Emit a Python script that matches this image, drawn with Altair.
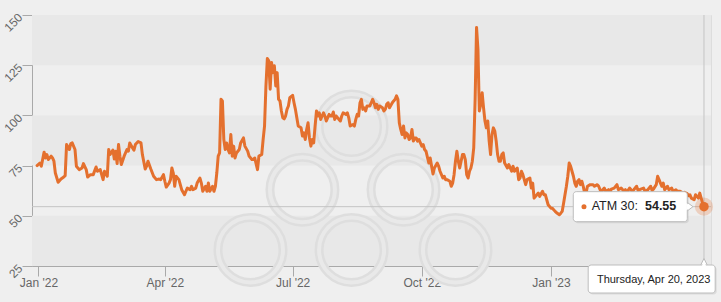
import altair as alt
import pandas as pd

# ---------------- data ----------------
start_date = "2022-01-01"
day_offsets = [
    -1, 1, 2, 4, 5, 6, 7, 9, 10, 11, 12, 14, 16, 18, 19, 20, 22, 23, 24, 26, 27, 29, 31, 32, 34, 35,
    37, 39, 41, 42, 44, 46, 47, 49, 50, 51, 53, 54, 55, 56, 57, 58, 59, 61, 63, 64, 65, 67, 68, 69,
    71, 73, 74, 76, 77, 78, 80, 82, 84, 86, 87, 89, 90, 91,
    93, 94, 95, 96, 97, 98, 100, 101, 102, 104, 105, 106, 108, 109, 110, 112, 113, 115, 116, 117,
    119, 120, 121, 122, 124, 125, 126, 127, 128, 129, 130, 131, 132, 133, 134, 135, 136, 137, 138,
    139, 140, 141, 143, 144, 146, 147, 149, 150, 152, 153, 154, 156, 157, 159, 160, 161, 162, 163,
    164, 165, 166, 167, 168, 169, 170, 171, 172, 173, 174, 175, 176, 177, 178, 179, 181, 182, 183,
    184, 185,
    187, 188, 189, 190, 191, 192, 193, 194, 195, 196, 197, 198, 199, 200, 201, 202, 203, 204, 205,
    207, 208, 209, 210, 211, 212, 214, 215, 216, 217, 219, 220, 221, 222, 224, 225, 226, 227, 228,
    229, 230, 231, 232, 233, 234, 236, 237, 238, 239, 240, 241, 242, 243, 245, 246, 247, 248, 249,
    250, 252, 253, 254, 255, 256, 257, 258, 259, 260, 261, 262, 263, 264, 265, 266, 267, 268, 269,
    270, 271, 273, 274, 275, 276, 278,
    279, 280, 281, 282, 284, 285, 286, 287, 288, 289, 290, 291, 293, 294, 295, 296, 297, 298, 299,
    300, 301, 302, 303, 304, 305, 306, 307, 308, 309, 310, 311, 312, 313, 314, 315, 316, 317, 318,
    319, 320, 321, 322, 323, 324, 325, 326, 327, 328, 329, 330, 331, 332, 334, 335, 337, 338, 339,
    341, 342, 343, 344, 345, 347, 348, 350, 351, 352, 353, 355, 356, 357, 359, 360, 361, 362, 363,
    365, 366, 368, 369, 371,
    372, 373, 374, 376, 377, 378, 379, 380, 381, 382, 383, 384, 385, 386, 387, 388, 389, 390, 391,
    393, 395, 396, 398, 399, 400, 401, 403, 404, 406, 407, 408, 410, 412, 413, 415, 417, 418, 419,
    421, 423, 424, 426, 427, 429, 431, 432, 434, 436, 437, 438, 440, 441, 442, 443, 444, 445, 446,
    448, 449, 451, 452, 454, 455, 457, 459, 460, 462, 463, 464, 465, 467, 468, 470, 471, 472, 473,
    474,
]
atm30 = [
    75.0, 76.3, 74.7, 81.7, 78.8, 80.5, 78.0, 79.7, 78.8, 77.2, 71.3, 66.7, 68.3, 69.3, 70.0, 85.5,
    83.0, 86.0, 86.3, 83.0, 74.7, 73.0, 73.8, 76.0, 73.0, 69.3, 70.5, 70.5, 74.3, 72.2, 73.0, 68.0,
    72.2, 69.7, 83.0, 80.5, 82.7, 78.3, 82.2, 76.0, 85.5, 79.7, 75.5, 79.7, 83.0, 82.2, 86.3, 83.8,
    82.7, 85.5, 87.0, 86.3, 80.5, 73.3, 74.7, 77.2, 73.3, 69.7, 68.0, 68.3, 68.0, 70.5, 67.2, 64.3,
    66.3, 68.0, 73.8, 71.3, 64.7, 69.7, 68.0, 65.5, 63.0, 60.5, 62.2, 63.8, 63.0, 64.7, 63.0, 63.8,
    66.3, 68.8, 66.3, 62.2, 64.7, 62.2, 66.3, 62.2, 64.7, 62.2, 64.7, 71.3, 79.7, 81.3, 108.0, 107.2,
    88.0, 83.0, 86.3, 83.0, 81.3, 90.5, 79.7, 84.7, 78.8, 81.3, 83.0, 86.3, 88.8, 84.7, 82.2, 79.7,
    78.0, 78.0, 78.8, 73.0, 79.7, 80.5, 88.0, 94.7, 114.7, 128.3, 127.2, 113.0, 126.3, 121.3, 124.7,
    114.7, 121.3, 108.0, 107.2, 102.2, 98.8, 98.3, 99.7, 103.0, 104.7, 108.8, 110.0, 106.3, 103.0,
    98.8, 94.7,
    93.8, 89.7, 91.3, 88.0, 93.0, 96.3, 88.8, 84.7, 88.0, 86.3, 94.7, 102.2, 99.7, 101.3, 98.0, 99.7,
    101.3, 99.7, 97.2, 100.5, 99.7, 99.7, 101.7, 98.0, 99.7, 98.0, 97.2, 99.7, 101.3, 100.5, 101.3,
    98.8, 94.7, 95.5, 94.7, 98.0, 100.5, 99.7, 106.3, 108.0, 103.0, 103.8, 102.2, 104.7, 104.7,
    106.3, 108.0, 106.3, 103.8, 105.5, 103.0, 104.7, 103.8, 102.2, 103.0, 105.5, 106.3, 103.8, 106.3,
    107.2, 108.0, 109.7, 108.0, 96.3, 93.0, 90.5, 94.7, 88.8, 91.3, 90.5, 88.0, 88.8, 93.0, 87.2,
    88.8, 88.8, 87.2, 88.0, 84.7, 85.5, 83.0, 82.2, 76.3,
    78.8, 74.7, 70.8, 73.8, 76.3, 74.7, 72.2, 70.5, 68.8, 69.7, 68.0, 68.0, 67.2, 64.7, 66.3, 70.5,
    77.2, 82.2, 77.2, 73.8, 77.2, 80.5, 80.5, 78.0, 70.5, 68.8, 72.2, 73.8, 77.2, 83.8, 108.0, 143.8,
    133.0, 102.2, 105.5, 111.3, 103.8, 97.2, 93.8, 97.2, 87.2, 80.5, 90.5, 93.8, 92.2, 87.2, 80.5,
    77.2, 77.2, 80.5, 81.3, 76.3, 73.8, 75.5, 72.2, 74.7, 72.2, 73.8, 68.0, 68.8, 72.2, 70.5, 65.5,
    68.0, 68.8, 63.8, 66.3, 58.8, 60.5, 61.3, 59.7, 62.2, 60.5, 60.5, 58.0, 55.5, 53.8, 53.8, 52.2,
    51.5, 50.5,
    51.3, 52.2, 56.3, 64.7, 69.7, 76.3, 74.7, 72.2, 69.7, 66.3, 64.7, 67.2, 68.0, 65.5, 67.2, 64.7,
    61.3, 61.3, 64.7, 65.5, 65.5, 64.7, 65.5, 64.7, 63.0, 62.2, 63.8, 62.2, 63.0, 61.7, 63.3, 63.8,
    65.5, 63.0, 63.8, 62.2, 63.0, 61.7, 63.8, 62.2, 63.0, 64.7, 62.7, 63.3, 63.8, 62.2, 63.0, 64.7,
    62.7, 63.3, 65.5, 69.7, 68.0, 66.3, 64.7, 66.3, 63.0, 64.7, 63.0, 63.8, 62.2, 63.0, 62.2, 62.2,
    61.3, 61.7, 61.0, 60.0, 60.5, 58.8, 58.0, 60.5, 58.8, 61.3, 58.8, 56.3, 54.55,
]

y_ticks = [25, 50, 75, 100, 125, 150]
x_tick_dates = [(2022, 1, 1), (2022, 4, 1), (2022, 7, 1), (2022, 10, 1), (2023, 1, 1)]
band_low = [125, 75, 25]
band_high = [150, 100, 50]

series_label = "ATM 30: "
last_date = "2023-04-20"
last_value = 54.55
last_value_text = "54.55"
date_label = "Thursday, Apr 20, 2023"

# watermark rings (centre date, centre value)
ring_dates = ["2022-08-12", "2022-07-08", "2022-09-18", "2022-06-01", "2022-08-12", "2022-10-25"]
ring_values = [94.5, 63, 63, 33, 33, 33]

# ---------------- tables ----------------
df = pd.DataFrame({
    "date": pd.to_datetime(start_date) + pd.to_timedelta(day_offsets, unit="D"),
    "value": atm30,
})
bands = pd.DataFrame({"lo": band_low, "hi": band_high})
rings = pd.DataFrame({"date": pd.to_datetime(ring_dates), "value": ring_values})
tip = pd.DataFrame({
    "date": pd.to_datetime([last_date]),
    "value": [last_value],
    "floor": [y_ticks[0]],
    "label": [series_label],
    "vtext": [last_value_text],
    "dlabel": [date_label],
})

# ---------------- scales / axes ----------------
W, H = 679, 251
ORANGE = "#e4702e"
AXIS_GRAY = "#a9a9a9"
LABEL_GRAY = "#666666"

xscale = alt.Scale(domain=[alt.DateTime(year=2021, month=12, date=27, hours=9),
                           alt.DateTime(year=2023, month=4, date=25)])
yscale = alt.Scale(domain=[25, 150], nice=False, zero=False)
x_axis = alt.Axis(values=[alt.DateTime(year=y, month=m, date=d) for (y, m, d) in x_tick_dates],
                  format="%b '%y", title=None, grid=False, tickSize=10, labelPadding=1,
                  domainColor=AXIS_GRAY, tickColor=AXIS_GRAY, labelColor=LABEL_GRAY,
                  labelFontSize=12, labelFlush=False, labelOverlap=False)
y_axis = alt.Axis(values=y_ticks, title=None, grid=False, tickSize=10, labelPadding=2,
                  labelAngle=315, labelAlign="right", labelBaseline="middle",
                  domainColor=AXIS_GRAY, tickColor=AXIS_GRAY, labelColor=LABEL_GRAY,
                  labelFontSize=12)

X = alt.X("date:T", scale=xscale, axis=x_axis)
Y = alt.Y("value:Q", scale=yscale, axis=y_axis)

band_layer = alt.Chart(bands).mark_rect(color="#e8e8e8").encode(
    x=alt.value(0), x2=alt.value(W),
    y=alt.Y("lo:Q", scale=yscale, axis=y_axis), y2="hi:Q")

ring_outer = alt.Chart(rings).mark_point(shape="circle", filled=False, size=4225,
                                         stroke="#dedede", strokeWidth=9, opacity=1).encode(x=X, y=Y)
ring_inner = alt.Chart(rings).mark_point(shape="circle", filled=False, size=4225,
                                         stroke="#e9e9e9", strokeWidth=4, opacity=1).encode(x=X, y=Y)

hline = alt.Chart(tip).mark_rule(color="#c4c4c4", strokeWidth=1).encode(
    y=Y, x=alt.value(0), x2=alt.value(W))
vline = alt.Chart(tip).mark_rule(color="#c4c4c4", strokeWidth=1).encode(
    x=X, y=alt.value(0), y2=alt.value(H))

line = alt.Chart(df).mark_line(color=ORANGE, strokeWidth=3, strokeJoin="round",
                               strokeCap="round").encode(x=X, y=Y)

halo = alt.Chart(tip).mark_point(shape="circle", filled=True, size=330, color=ORANGE,
                                 opacity=0.25).encode(x=X, y=Y)
marker = alt.Chart(tip).mark_point(shape="circle", filled=True, size=90, color=ORANGE,
                                   opacity=1).encode(x=X, y=Y)

# value tooltip
tip_shadow = alt.Chart(tip).mark_rect(width=114, height=30, xOffset=-72.2, yOffset=1.5,
                                      fill="#000000", opacity=0.08, cornerRadius=3).encode(x=X, y=Y)
tip_ptr = alt.Chart(tip).mark_point(shape="M0.5,0L-0.5,-0.75L-0.5,0.75Z", size=144, filled=True,
                                    fill="white", stroke="#bdbdbd", strokeWidth=1, opacity=1,
                                    xOffset=-14).encode(x=X, y=Y)
tip_box = alt.Chart(tip).mark_rect(width=114, height=30, xOffset=-73.7, fill="white",
                                   stroke="#bdbdbd", strokeWidth=1, cornerRadius=3).encode(x=X, y=Y)
tip_ptr_cover = alt.Chart(tip).mark_point(shape="M0.5,0L-0.5,-0.75L-0.5,0.75Z", size=100,
                                          filled=True, fill="white", strokeWidth=0, opacity=1,
                                          xOffset=-15.3).encode(x=X, y=Y)
tip_dot = alt.Chart(tip).mark_point(shape="circle", filled=True, size=25, color=ORANGE, opacity=1,
                                    xOffset=-120).encode(x=X, y=Y)
tip_text = alt.Chart(tip).mark_text(align="left", baseline="middle", xOffset=-112.3, yOffset=-0.5,
                                    fontSize=12.5, color="#222222").encode(x=X, y=Y, text="label:N")
tip_val = alt.Chart(tip).mark_text(align="left", baseline="middle", xOffset=-59, yOffset=-0.5,
                                   fontSize=12.5, fontWeight="bold", color="#222222").encode(
    x=X, y=Y, text="vtext:N")

# date tooltip
FY = alt.Y("floor:Q", scale=yscale, axis=y_axis)
date_shadow = alt.Chart(tip).mark_rect(width=127, height=28, xOffset=-50.8, yOffset=14.5,
                                       fill="#000000", opacity=0.08, cornerRadius=3).encode(x=X, y=FY)
date_ptr = alt.Chart(tip).mark_point(shape="M0,-1L0.9,0.8L-0.9,0.8Z", size=64, filled=True,
                                     fill="white", stroke="#bdbdbd", strokeWidth=1, opacity=1,
                                     yOffset=-3.5).encode(x=X, y=FY)
date_box = alt.Chart(tip).mark_rect(width=127, height=28, xOffset=-52.3, yOffset=13, fill="white",
                                    stroke="#bdbdbd", strokeWidth=1, cornerRadius=3).encode(x=X, y=FY)
date_ptr_cover = alt.Chart(tip).mark_point(shape="M0,-1L0.9,0.8L-0.9,0.8Z", size=36, filled=True,
                                           fill="white", strokeWidth=0, opacity=1,
                                           yOffset=-1.2).encode(x=X, y=FY)
date_text = alt.Chart(tip).mark_text(align="center", baseline="middle", xOffset=-50.3, yOffset=14,
                                     fontSize=11, color="#222222").encode(x=X, y=FY, text="dlabel:N")

chart = alt.layer(
    band_layer, ring_outer, ring_inner, hline, vline, line, halo, marker,
    tip_shadow, tip_ptr, tip_box, tip_ptr_cover, tip_dot, tip_text, tip_val,
    date_shadow, date_ptr, date_box, date_ptr_cover, date_text,
).properties(
    width=W, height=H,
    padding={"left": 32, "top": 15, "right": 10, "bottom": 36},
    autosize="none",
    background="#efefef",
).configure_view(stroke=None).configure(font="Liberation Sans")

chart.save("out.html", embed_options={"renderer": "svg", "actions": False})
